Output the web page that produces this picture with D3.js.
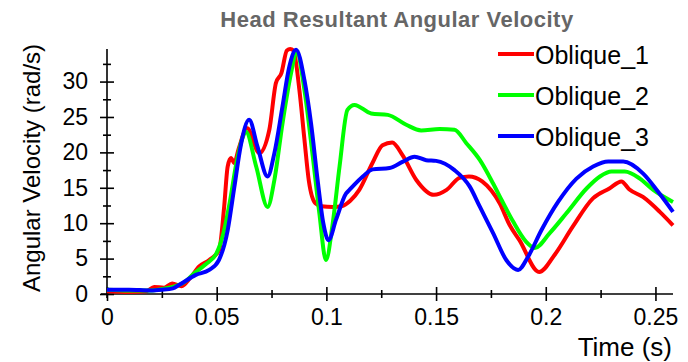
<!DOCTYPE html>
<html>
<head>
<meta charset="utf-8">
<script src="https://cdn.jsdelivr.net/npm/d3@7"></script>
<style>
    body { margin: 0; background: #fff; }
    svg { font-family: Arial, "Liberation Sans", sans-serif; }
</style>
</head>
<body>
<div id="chart"></div>
<script>
// values
var seriesNames = ["Oblique_1", "Oblique_2", "Oblique_3"];
var seriesColors = ["#ff0000", "#00ff00", "#0000ff"];

var time1 = [0, 0.01, 0.018, 0.0215, 0.026, 0.0297, 0.034, 0.038, 0.042, 0.0466, 0.0511, 0.0534, 0.055, 0.0565, 0.058, 0.06, 0.0639, 0.0694, 0.074, 0.077, 0.0795, 0.082, 0.0835, 0.085, 0.0877, 0.09, 0.092, 0.095, 0.0977, 0.103, 0.107, 0.111, 0.115, 0.121, 0.1256, 0.13, 0.1347, 0.141, 0.149, 0.1548, 0.1607, 0.165, 0.171, 0.179, 0.1836, 0.188, 0.197, 0.204, 0.2123, 0.2215, 0.229, 0.2345, 0.238, 0.2443, 0.252, 0.258];
var vel1 = [0.4, 0.3, 0.4, 1.0, 0.9, 1.5, 1.1, 2.3, 3.9, 4.8, 6.2, 12.3, 18, 19.2, 18.5, 20.5, 23.4, 19.9, 23.2, 29.8, 31.2, 34.4, 34.6, 34.4, 28.8, 21.8, 16, 12.8, 12.4, 12.3, 12.4, 13.2, 14.7, 18.5, 21, 21.4, 19.6, 16.1, 14, 14.7, 16.4, 16.6, 15.9, 12.8, 9.7, 7.6, 3.1, 5.5, 9.5, 13.5, 14.9, 15.9, 14.8, 13.7, 11.6, 9.7];

var time2 = [0, 0.01, 0.02, 0.025, 0.03, 0.035, 0.04, 0.045, 0.05, 0.053, 0.056, 0.059, 0.0615, 0.0633, 0.068, 0.0732, 0.0763, 0.08, 0.0839, 0.0864, 0.09, 0.0938, 0.0968, 0.0998, 0.1029, 0.106, 0.1096, 0.1128, 0.1204, 0.128, 0.1364, 0.1432, 0.1516, 0.1584, 0.1638, 0.17, 0.176, 0.18, 0.185, 0.191, 0.195, 0.2018, 0.2094, 0.2186, 0.2247, 0.23, 0.236, 0.2429, 0.249, 0.258];
var vel2 = [0.6, 0.5, 0.5, 0.7, 1.0, 1.6, 3.0, 4.2, 5.8, 8.5, 13, 18.5, 21.8, 22.9, 18, 12.3, 16.1, 24.1, 31.2, 34.2, 28.8, 19.4, 11.4, 4.8, 10, 18, 26, 26.7, 25.5, 25.3, 23.9, 23.1, 23.3, 23.2, 21.3, 18.9, 15.6, 13.2, 10.3, 7.4, 6.5, 8.6, 11.4, 14.9, 16.6, 17.3, 17.3, 16.3, 14.7, 13];

var time3 = [0, 0.01, 0.02, 0.025, 0.03, 0.033, 0.0405, 0.0466, 0.051, 0.055, 0.058, 0.061, 0.0648, 0.0686, 0.0732, 0.0763, 0.08, 0.0831, 0.0862, 0.09, 0.093, 0.096, 0.0986, 0.101, 0.1044, 0.109, 0.1105, 0.1166, 0.1211, 0.1288, 0.1349, 0.1402, 0.1455, 0.15, 0.1584, 0.1653, 0.17, 0.176, 0.182, 0.1874, 0.192, 0.198, 0.2056, 0.214, 0.2216, 0.2285, 0.2353, 0.2444, 0.2513, 0.258];
var vel3 = [0.6, 0.6, 0.5, 0.6, 0.8, 1.3, 2.7, 3.4, 4.8, 9, 15, 21, 24.6, 20.8, 16.6, 19.9, 26.5, 32.1, 34.5, 30.2, 24.1, 16.1, 10, 7.6, 10.5, 14.2, 14.7, 16.6, 17.6, 17.8, 18.7, 19.4, 18.9, 18.8, 17.5, 15.2, 12.3, 8.6, 4.8, 3.4, 5.3, 9, 13, 16.3, 18, 18.7, 18.7, 17, 14.4, 11.6];

var xMajorTicks = [0, 0.05, 0.1, 0.15, 0.2, 0.25];
var xMinorTicks = [0.025, 0.075, 0.125, 0.175, 0.225];
var yMajorTicks = [0, 5, 10, 15, 20, 25, 30];
var yMinorTicks = [2.5, 7.5, 12.5, 17.5, 22.5, 27.5, 32.5];

var svgWidth = 688;
var svgHeight = 362;

var svg = d3.select("#chart")
    .append("svg")
    .attr("width", svgWidth)
    .attr("height", svgHeight);

var xScale = d3.scaleLinear()
    .domain([0, 0.258])
    .range([107, 673]);
var yScale = d3.scaleLinear()
    .domain([0, 34.6])
    .range([294, 49]);

// ticks cross the axis line on both sides
function crossTicks(g, half, vertical) {
    g.selectAll(".tick line")
        .attr(vertical ? "x1" : "y1", -half)
        .attr(vertical ? "x2" : "y2", half)
        .attr("stroke", "#000")
        .attr("stroke-width", 1.6);
}

var yAxis = svg.append("g")
    .attr("transform", `translate(${xScale(0)},0)`)
    .call(d3.axisLeft(yScale).tickValues(yMajorTicks).tickSize(7).tickPadding(12));
yAxis.select(".domain").remove();
crossTicks(yAxis, 7, true);
yAxis.selectAll("text").attr("font-size", 23).attr("fill", "#000");

var yMinor = svg.append("g")
    .attr("transform", `translate(${xScale(0)},0)`)
    .call(d3.axisLeft(yScale).tickValues(yMinorTicks).tickSize(4).tickFormat(""));
yMinor.select(".domain").remove();
crossTicks(yMinor, 4, true);

var xAxis = svg.append("g")
    .attr("transform", `translate(0,${yScale(0)})`)
    .call(d3.axisBottom(xScale).tickValues(xMajorTicks).tickSize(7).tickPadding(8).tickFormat(d3.format("~g")));
xAxis.select(".domain").remove();
crossTicks(xAxis, 7, false);
xAxis.selectAll("text").attr("font-size", 23).attr("fill", "#000");

var xMinor = svg.append("g")
    .attr("transform", `translate(0,${yScale(0)})`)
    .call(d3.axisBottom(xScale).tickValues(xMinorTicks).tickSize(4).tickFormat(""));
xMinor.select(".domain").remove();
crossTicks(xMinor, 4, false);

// axis lines
svg.append("line")
    .attr("x1", xScale(0)).attr("x2", xScale(0))
    .attr("y1", yScale(34.6)).attr("y2", yScale(0) + 4)
    .attr("stroke", "#000").attr("stroke-width", 1.6);
svg.append("line")
    .attr("x1", xScale(0) - 6).attr("x2", xScale(0.258))
    .attr("y1", yScale(0)).attr("y2", yScale(0))
    .attr("stroke", "#000").attr("stroke-width", 1.6);

// curves
var allSeries = [
    { name: seriesNames[0], color: seriesColors[0], t: time1, v: vel1 },
    { name: seriesNames[1], color: seriesColors[1], t: time2, v: vel2 },
    { name: seriesNames[2], color: seriesColors[2], t: time3, v: vel3 }
];

var line = d3.line()
    .x(d => xScale(d[0]))
    .y(d => yScale(d[1]))
    .curve(d3.curveMonotoneX);

allSeries.forEach(function (s) {
    svg.append("path")
        .datum(s.t.map((t, i) => [t, s.v[i]]))
        .attr("fill", "none")
        .attr("stroke", s.color)
        .attr("stroke-width", 4)
        .attr("stroke-linejoin", "round")
        .attr("d", line);
});

// title
svg.append("text")
    .attr("x", 397)
    .attr("y", 27)
    .attr("text-anchor", "middle")
    .attr("font-size", 22)
    .attr("font-weight", "bold")
    .attr("letter-spacing", 0.5)
    .attr("fill", "#666")
    .text("Head Resultant Angular Velocity");

// axis titles
svg.append("text")
    .attr("transform", `translate(40, ${168}) rotate(-90)`)
    .attr("text-anchor", "middle")
    .attr("font-size", 24)
    .attr("fill", "#000")
    .text("Angular Velocity (rad/s)");

svg.append("text")
    .attr("x", 672)
    .attr("y", 356)
    .attr("text-anchor", "end")
    .attr("font-size", 26)
    .attr("fill", "#000")
    .text("Time (s)");

// legend
var legend = svg.append("g");
allSeries.forEach(function (s, i) {
    var ly = 54 + i * 41;
    legend.append("line")
        .attr("x1", 498).attr("x2", 534)
        .attr("y1", ly).attr("y2", ly)
        .attr("stroke", s.color)
        .attr("stroke-width", 4);
    legend.append("text")
        .attr("x", 535)
        .attr("y", ly + 10)
        .attr("font-size", 25)
        .attr("fill", "#000")
        .text(s.name);
});
</script>
</body>
</html>
